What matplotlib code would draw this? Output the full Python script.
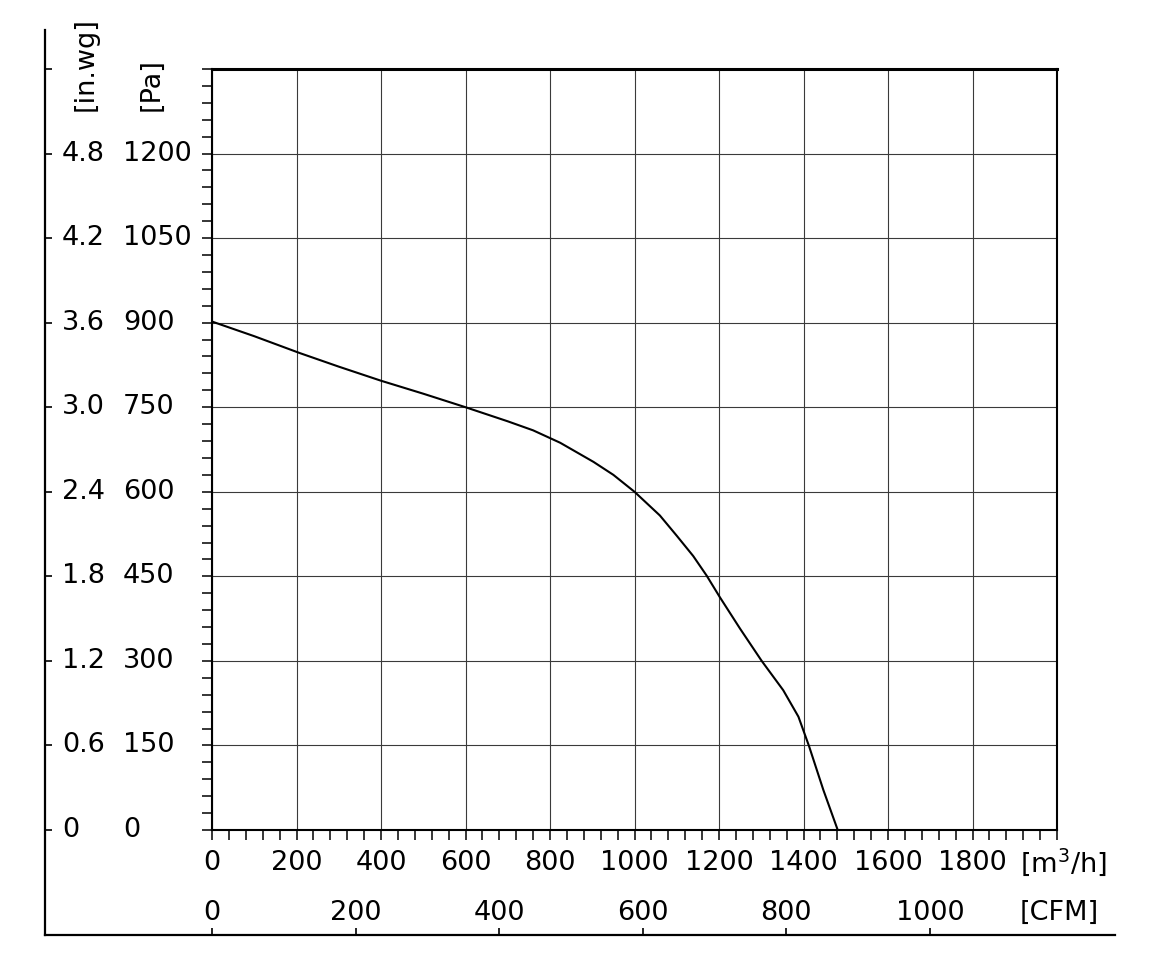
import numpy as np
import matplotlib.pyplot as plt
from matplotlib.transforms import blended_transform_factory

plt.rcParams['font.family'] = ['DejaVu Sans']
plt.rcParams['mathtext.default'] = 'regular'

# fan curve (flow in m3/h, pressure in Pa)
flow = [0, 100, 208, 300, 400, 500, 600, 700, 760, 824, 903, 950, 1000, 1060, 1100, 1139, 1171,
        1202, 1250, 1301, 1352, 1388, 1413, 1447, 1481]
pressure = [902, 876, 846, 822, 797, 774, 750, 725, 709, 687, 653, 630, 600, 558, 522, 486, 451,
            413, 357, 300, 248, 201, 149, 71, 0]

pa_ticks = [0, 150, 300, 450, 600, 750, 900, 1050, 1200]
inwg_labels = ['0', '0.6', '1.2', '1.8', '2.4', '3.0', '3.6', '4.2', '4.8']
m3h_ticks = [0, 200, 400, 600, 800, 1000, 1200, 1400, 1600, 1800]
cfm_ticks = [0, 200, 400, 600, 800, 1000]
CFM_TO_M3H = 1.699

W, H = 1150, 963
fig = plt.figure(figsize=(W / 100, H / 100), dpi=100)

def frac(x0, y0, x1, y1):
    # pixel box (top-left origin) -> figure fraction rect
    return [x0 / W, 1 - y1 / H, (x1 - x0) / W, (y1 - y0) / H]

main_rect = frac(212, 69, 1057, 830)
outer_rect = frac(45, 30, 1115, 935)

xmin, xmax, ymin, ymax = 0, 2000, 0, 1350

# outer frame with the CFM axis and the in.wg ticks
outer = fig.add_axes(outer_rect, zorder=0)
outer.patch.set_alpha(0)
for s in ['top', 'right']:
    outer.spines[s].set_visible(False)
for s in ['left', 'bottom']:
    outer.spines[s].set_linewidth(1.6)
# align outer data coords with main axes
ox0 = xmin - (main_rect[0] - outer_rect[0]) / main_rect[2] * (xmax - xmin)
ox1 = xmin + (outer_rect[0] + outer_rect[2] - main_rect[0]) / main_rect[2] * (xmax - xmin)
oy0 = ymin - (main_rect[1] - outer_rect[1]) / main_rect[3] * (ymax - ymin)
oy1 = ymin + (outer_rect[1] + outer_rect[3] - main_rect[1]) / main_rect[3] * (ymax - ymin)
outer.set_xlim(ox0, ox1)
outer.set_ylim(oy0, oy1)
outer.set_xticks([c * CFM_TO_M3H for c in cfm_ticks])
outer.set_yticks(pa_ticks + [1350])
outer.tick_params(axis='both', direction='in', length=5, width=1.2, labelbottom=False, labelleft=False)

fs = 19.5
tb = blended_transform_factory(outer.transData, fig.transFigure)
for c in cfm_ticks:
    outer.text(c * CFM_TO_M3H, 1 - 913 / H, str(c), transform=tb, ha='center', va='center', fontsize=fs)
fig.text(1020 / W, 1 - 913 / H, '[CFM]', ha='left', va='center', fontsize=fs)

# main chart
ax = fig.add_axes(main_rect, zorder=1)
ax.patch.set_alpha(0)
ax.set_xlim(xmin, xmax)
ax.set_ylim(ymin, ymax)
ax.set_xticks(m3h_ticks)
ax.set_xticks(np.arange(0, 2001, 40), minor=True)
ax.set_yticks(pa_ticks)
ax.set_yticks(np.arange(0, 1351, 30), minor=True)
ax.grid(True, which='major', color='#3a3a3a', linewidth=0.8)
ax.tick_params(axis='both', which='both', direction='out', length=7.5, width=1.1)
ax.tick_params(axis='y', labelleft=False)
ax.tick_params(axis='x', labelsize=fs, pad=7)
ax.set_xticklabels([str(v) for v in m3h_ticks])
for s in ['left', 'bottom', 'right']:
    ax.spines[s].set_linewidth(1.5)
ax.spines['top'].set_linewidth(2.2)

ax.plot(flow, pressure, color='black', linewidth=1.5, zorder=3, solid_joinstyle='round')

ty = blended_transform_factory(fig.transFigure, ax.transData)
for p, w in zip(pa_ticks, inwg_labels):
    ax.text(123 / W, p, str(p), transform=ty, ha='left', va='center', fontsize=fs)
    ax.text(62 / W, p, w, transform=ty, ha='left', va='center', fontsize=fs)

fig.text(1020 / W, 1 - 862 / H, '[m$^3$/h]', ha='left', va='center', fontsize=fs)
fig.text(86 / W, 1 - 111 / H, '[in.wg]', rotation=90, ha='center', va='bottom', fontsize=fs)
fig.text(152 / W, 1 - 111 / H, '[Pa]', rotation=90, ha='center', va='bottom', fontsize=fs)

fig.savefig('out.png', dpi=100)
